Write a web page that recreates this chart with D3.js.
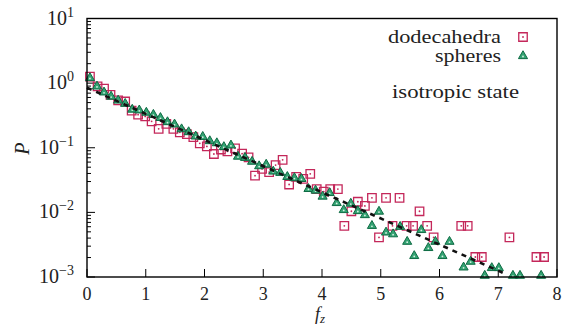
<!DOCTYPE html>
<html>
<head>
<meta charset="utf-8">
<style>
  body { margin: 0; background: #fff; }
  svg text { font-family: "Liberation Serif", "DejaVu Serif", serif; fill: #222; }
</style>
</head>
<body>
<div id="vis"></div>
<script src="https://d3js.org/d3.v7.min.js"></script>
<script>
// dodecahedra (squares)
var dodecaFz = [0.05, 0.18, 0.29, 0.40, 0.53, 0.65, 0.76, 0.87, 0.99, 1.10,
                1.22, 1.35, 1.47, 1.58, 1.70, 1.81, 1.92, 2.04, 2.16, 2.28,
                2.39, 2.52, 2.64, 2.75, 2.86, 2.98, 3.10, 3.21, 3.33, 3.44,
                3.56, 3.68, 3.80, 3.91, 4.03, 4.14, 4.27, 4.38, 4.50, 4.61,
                4.73, 4.85, 4.97, 5.09, 5.20, 5.32, 5.44, 5.55, 5.66, 5.79,
                5.90, 6.37, 6.48, 6.61, 6.72, 7.19, 7.65, 7.78];
var dodecaP = [1.26, 0.89, 0.82, 0.66, 0.54, 0.52, 0.375, 0.325, 0.305, 0.256,
               0.196, 0.234, 0.196, 0.173, 0.162, 0.146, 0.117, 0.105, 0.080, 0.094,
               0.088, 0.098, 0.081, 0.071, 0.037, 0.047, 0.042, 0.054, 0.065, 0.027,
               0.0355, 0.033, 0.0395, 0.0229, 0.021, 0.0229, 0.0229, 0.0062, 0.0104, 0.0146,
               0.0126, 0.0168, 0.0041, 0.0168, 0.0062, 0.0168, 0.0062, 0.0062, 0.0104, 0.0062,
               0.0041, 0.0062, 0.0062, 0.00204, 0.00204, 0.0041, 0.00204, 0.00204];

// spheres (triangles)
var sphereFz = [0.05, 0.17, 0.29, 0.41, 0.53, 0.65, 0.77, 0.89, 1.01, 1.13,
                1.25, 1.37, 1.49, 1.61, 1.73, 1.85, 1.97, 2.09, 2.21, 2.33,
                2.45, 2.57, 2.69, 2.81, 2.93, 3.05, 3.17, 3.29, 3.41, 3.53,
                3.65, 3.77, 3.89, 4.01, 4.13, 4.25, 4.37, 4.49, 4.61, 4.73,
                4.85, 4.97, 5.09, 5.21, 5.33, 5.45, 5.57, 5.69, 5.81, 5.93,
                6.05, 6.17, 6.41, 6.53, 6.77, 6.89, 7.01, 7.25, 7.37, 7.73];
var sphereP = [1.20, 0.89, 0.72, 0.62, 0.54, 0.48, 0.39, 0.38, 0.35, 0.325,
               0.29, 0.25, 0.23, 0.194, 0.175, 0.150, 0.148, 0.127, 0.118, 0.103,
               0.109, 0.073, 0.070, 0.061, 0.052, 0.055, 0.043, 0.041, 0.0355, 0.034,
               0.033, 0.0231, 0.0218, 0.0176, 0.020, 0.0140, 0.0109, 0.0137, 0.0105, 0.0091,
               0.0062, 0.0103, 0.0049, 0.0046, 0.0060, 0.00352, 0.00212, 0.00535, 0.00282, 0.00352,
               0.00212, 0.00352, 0.00141, 0.00173, 0.00105, 0.00138, 0.00138, 0.00105, 0.00105, 0.00105];

var guideFz = [0, 7.09];
var guideP = [0.85, 0.00115];

var xTicks = [0, 1, 2, 3, 4, 5, 6, 7, 8];
var yExps = [1, 0, -1, -2, -3];

var W = 563, H = 330;
var margin = {top: 18.5, right: 6, bottom: 53, left: 87},
    width = W - margin.left - margin.right,
    height = H - margin.top - margin.bottom;

var svg = d3.select("#vis").append("svg")
    .attr("width", W).attr("height", H)
  .append("g")
    .attr("transform", "translate(" + margin.left + "," + margin.top + ")");

var x = d3.scaleLinear().domain([0, 8]).range([0, width]);
var y = d3.scaleLog().domain([1e-3, 10]).range([height, 0]);

// ticks (inward)
var minor = [];
[-3, -2, -1, 0].forEach(function(e) {
  for (var k = 2; k <= 9; k++) minor.push(k * Math.pow(10, e));
});
svg.selectAll(".ymin").data(minor).enter().append("line")
    .attr("x1", 0).attr("x2", 4)
    .attr("y1", function(d) { return y(d); }).attr("y2", function(d) { return y(d); })
    .attr("stroke", "#000").attr("stroke-width", 1);
svg.selectAll(".ymaj").data(yExps).enter().append("line")
    .attr("x1", 0).attr("x2", 8)
    .attr("y1", function(d) { return y(Math.pow(10, d)); }).attr("y2", function(d) { return y(Math.pow(10, d)); })
    .attr("stroke", "#000").attr("stroke-width", 1);
svg.selectAll(".xmaj").data(xTicks).enter().append("line")
    .attr("x1", function(d) { return x(d); }).attr("x2", function(d) { return x(d); })
    .attr("y1", height).attr("y2", height - 8)
    .attr("stroke", "#000").attr("stroke-width", 1);

// tick labels
svg.selectAll(".xl").data(xTicks).enter().append("text")
    .attr("x", function(d) { return x(d); })
    .attr("y", height + 23)
    .attr("text-anchor", "middle")
    .style("font-size", "18px")
    .text(function(d) { return d; });

var yl = svg.selectAll(".yl").data(yExps).enter().append("text")
    .attr("x", -13)
    .attr("y", function(d) { return y(Math.pow(10, d)) + 6; })
    .attr("text-anchor", "end")
    .style("font-size", "20px");
yl.append("tspan").text("10");
yl.append("tspan")
    .attr("dy", -8)
    .style("font-size", "14px")
    .text(function(d) { return d < 0 ? "\u2212" + (-d) : d; });

// axis titles
svg.append("text")
    .attr("transform", "translate(" + (-58) + "," + (height / 2 + 1) + ") rotate(-90)")
    .attr("text-anchor", "middle")
    .style("font-size", "20px").style("font-style", "italic")
    .text("P");
var xt = svg.append("text")
    .attr("x", x(4) - 7).attr("y", height + 43)
    .style("font-size", "18px").style("font-style", "italic");
xt.append("tspan").text("f");
xt.append("tspan").attr("dy", 3).style("font-size", "13px").text("z");

// markers
var sqSym = d3.symbol().type(d3.symbolSquare).size(72);
var triSym = d3.symbol().type(d3.symbolTriangle).size(36);
var sqColor = "#c4275a", triFill = "#34a373", triStroke = "#0d6b43";

function drawSquare(sel) {
  sel.append("path").attr("d", sqSym())
      .attr("fill", "none").attr("stroke", sqColor).attr("stroke-width", 1.3);
  sel.append("circle").attr("r", 0.9).attr("fill", sqColor);
}
function drawTri(sel) {
  sel.append("path").attr("d", triSym())
      .attr("fill", triFill).attr("stroke", triStroke).attr("stroke-width", 1);
  sel.append("circle").attr("cy", 0.5).attr("r", 0.9).attr("fill", "#d8f0e2");
}

var dodeca = dodecaFz.map(function(f, i) { return {fz: f, p: dodecaP[i]}; });
var spheres = sphereFz.map(function(f, i) { return {fz: f, p: sphereP[i]}; });

svg.selectAll(".sq").data(dodeca).enter().append("g")
    .attr("transform", function(d) { return "translate(" + x(d.fz) + "," + y(d.p) + ")"; })
    .call(drawSquare);
svg.selectAll(".tri").data(spheres).enter().append("g")
    .attr("transform", function(d) { return "translate(" + x(d.fz) + "," + y(d.p) + ")"; })
    .call(drawTri);

var guide = guideFz.map(function(f, i) { return [f, guideP[i]]; });
svg.append("path")
    .attr("d", d3.line().x(function(d) { return x(d[0]); }).y(function(d) { return y(d[1]); })(guide))
    .attr("fill", "none").attr("stroke", "#111")
    .attr("stroke-width", 2.6).attr("stroke-dasharray", "5,5");

// frame
svg.append("rect")
    .attr("width", width).attr("height", height)
    .attr("fill", "none").attr("stroke", "#000").attr("stroke-width", 1.4);

// legend
var lx = 501 - margin.left;
svg.append("text").attr("x", lx).attr("y", 43 - margin.top)
    .attr("text-anchor", "end").style("font-size", "18px")
    .attr("textLength", 113).attr("lengthAdjust", "spacingAndGlyphs")
    .text("dodecahedra");
svg.append("text").attr("x", lx).attr("y", 62 - margin.top)
    .attr("text-anchor", "end").style("font-size", "18px")
    .attr("textLength", 66).attr("lengthAdjust", "spacingAndGlyphs")
    .text("spheres");
svg.append("g").attr("transform", "translate(" + (523 - margin.left) + "," + (37 - margin.top) + ")")
    .call(drawSquare);
svg.append("g").attr("transform", "translate(" + (523 - margin.left) + "," + (56 - margin.top) + ")")
    .call(drawTri);
svg.append("text").attr("x", 392 - margin.left).attr("y", 98 - margin.top)
    .style("font-size", "18px")
    .attr("textLength", 127).attr("lengthAdjust", "spacingAndGlyphs")
    .text("isotropic state");
</script>
</body>
</html>
